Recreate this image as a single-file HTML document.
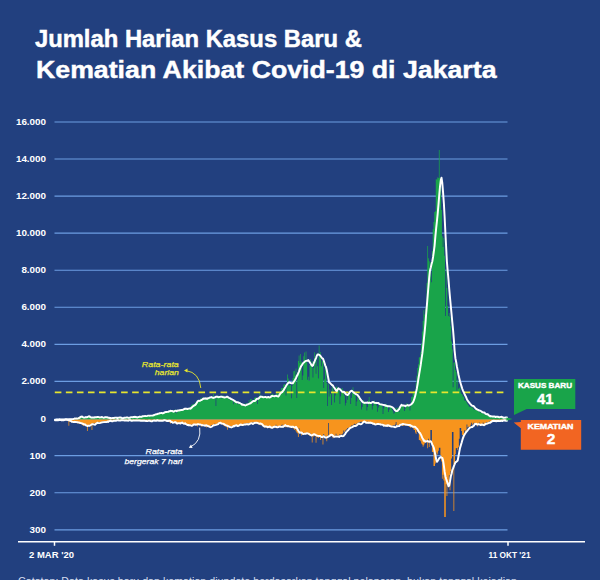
<!DOCTYPE html>
<html><head><meta charset="utf-8">
<style>
html,body{margin:0;padding:0;}
body{width:600px;height:580px;overflow:hidden;background:#22407f;font-family:"Liberation Sans",sans-serif;position:relative;}
svg{position:absolute;left:0;top:0;display:block;}
</style></head><body>
<svg width="600" height="580" viewBox="0 0 600 580" font-family="Liberation Sans, sans-serif">
<rect width="600" height="580" fill="#22407f"/>
<!-- title -->
<text x="34.9" y="46.8" font-size="23.8" font-weight="bold" fill="#fff" stroke="#fff" stroke-width="0.45" textLength="327" lengthAdjust="spacingAndGlyphs">Jumlah Harian Kasus Baru &amp;</text>
<text x="36" y="78.1" font-size="24.8" font-weight="bold" fill="#fff" stroke="#fff" stroke-width="0.45" textLength="460.5" lengthAdjust="spacingAndGlyphs">Kematian Akibat Covid-19 di Jakarta</text>
<!-- grid -->
<g stroke="#6c9de2" stroke-width="1.15"><line x1="54.5" x2="507.5" y1="122.0" y2="122.0"/><line x1="54.5" x2="507.5" y1="159.0" y2="159.0"/><line x1="54.5" x2="507.5" y1="196.1" y2="196.1"/><line x1="54.5" x2="507.5" y1="233.1" y2="233.1"/><line x1="54.5" x2="507.5" y1="270.2" y2="270.2"/><line x1="54.5" x2="507.5" y1="307.2" y2="307.2"/><line x1="54.5" x2="507.5" y1="344.3" y2="344.3"/><line x1="54.5" x2="507.5" y1="381.4" y2="381.4"/><line x1="54.5" x2="507.5" y1="419.4" y2="419.4"/><line x1="54.5" x2="507.5" y1="455.6" y2="455.6"/><line x1="54.5" x2="507.5" y1="492.7" y2="492.7"/><line x1="54.5" x2="507.5" y1="529.9" y2="529.9"/></g>
<g font-size="8.6" font-weight="bold" fill="#fff" text-anchor="end" transform="scale(1.15 1)"><text x="40.09" y="125.1">16.000</text><text x="40.09" y="162.1">14.000</text><text x="40.09" y="199.2">12.000</text><text x="40.09" y="236.2">10.000</text><text x="40.09" y="273.3">8.000</text><text x="40.09" y="310.3">6.000</text><text x="40.09" y="347.4">4.000</text><text x="40.09" y="384.5">2.000</text><text x="40.09" y="422.5">0</text><text x="40.09" y="458.7">100</text><text x="40.09" y="495.8">200</text><text x="40.09" y="533.0">300</text></g>
<!-- areas -->
<path d="M55.00 419.4 L54.62 419.4 L55.38 419.4 L55.39 419.4 L56.16 419.4 L56.16 419.4 L56.93 419.4 L56.93 419.4 L57.70 419.4 L57.70 419.4 L58.47 419.4 L58.47 419.4 L59.24 419.4 L59.24 419.4 L60.01 419.4 L60.01 419.4 L60.78 419.4 L60.78 419.4 L61.55 419.4 L61.55 419.4 L62.32 419.4 L62.32 419.4 L63.09 419.4 L63.09 419.4 L63.86 419.4 L63.86 419.3 L64.63 419.3 L64.63 419.3 L65.40 419.3 L65.40 419.3 L66.17 419.3 L66.17 419.3 L66.94 419.3 L66.94 419.3 L67.71 419.3 L67.71 419.3 L68.48 419.3 L68.48 419.2 L69.25 419.2 L69.25 419.1 L70.02 419.1 L70.02 419.0 L70.79 419.0 L70.79 419.0 L71.56 419.0 L71.56 418.8 L72.33 418.8 L72.33 418.8 L73.10 418.8 L73.10 418.7 L73.87 418.7 L73.87 418.6 L74.64 418.6 L74.64 418.6 L75.41 418.6 L75.41 418.5 L76.18 418.5 L76.18 418.1 L76.95 418.1 L76.95 417.8 L77.72 417.8 L77.72 417.4 L78.49 417.4 L78.49 417.2 L79.26 417.2 L79.26 417.1 L80.03 417.1 L80.03 417.1 L80.80 417.1 L80.80 417.3 L81.57 417.3 L81.57 417.1 L82.34 417.1 L82.34 417.1 L83.11 417.1 L83.11 416.9 L83.88 416.9 L83.88 416.9 L84.65 416.9 L84.65 417.1 L85.42 417.1 L85.42 417.1 L86.19 417.1 L86.19 417.2 L86.96 417.2 L86.96 417.1 L87.73 417.1 L87.73 417.0 L88.50 417.0 L88.50 416.9 L89.27 416.9 L89.27 416.9 L90.04 416.9 L90.04 417.1 L90.81 417.1 L90.81 417.3 L91.58 417.3 L91.58 417.2 L92.35 417.2 L92.35 417.2 L93.12 417.2 L93.12 417.1 L93.89 417.1 L93.89 417.1 L94.66 417.1 L94.66 417.1 L95.43 417.1 L95.43 417.8 L96.20 417.8 L96.20 417.2 L96.97 417.2 L96.97 417.4 L97.74 417.4 L97.74 417.2 L98.51 417.2 L98.51 417.4 L99.28 417.4 L99.28 417.3 L100.05 417.3 L100.05 417.2 L100.82 417.2 L100.82 417.5 L101.59 417.5 L101.59 417.6 L102.36 417.6 L102.36 417.5 L103.13 417.5 L103.13 417.5 L103.90 417.5 L103.90 417.3 L104.67 417.3 L104.67 417.6 L105.44 417.6 L105.44 417.6 L106.21 417.6 L106.21 417.8 L106.98 417.8 L106.98 417.9 L107.75 417.9 L107.75 417.8 L108.52 417.8 L108.52 417.8 L109.29 417.8 L109.29 417.8 L110.06 417.8 L110.06 417.7 L110.83 417.7 L110.83 417.6 L111.60 417.6 L111.60 417.7 L112.37 417.7 L112.37 417.8 L113.14 417.8 L113.14 417.8 L113.91 417.8 L113.91 417.7 L114.68 417.7 L114.68 417.6 L115.45 417.6 L115.45 417.7 L116.22 417.7 L116.22 417.6 L116.99 417.6 L116.99 417.7 L117.76 417.7 L117.76 417.8 L118.53 417.8 L118.53 417.7 L119.30 417.7 L119.30 417.6 L120.07 417.6 L120.07 417.5 L120.84 417.5 L120.84 417.5 L121.61 417.5 L121.61 417.5 L122.38 417.5 L122.38 417.6 L123.15 417.6 L123.15 417.5 L123.92 417.5 L123.92 417.5 L124.69 417.5 L124.69 417.6 L125.46 417.6 L125.46 417.5 L126.23 417.5 L126.23 417.3 L127.00 417.3 L127.00 417.5 L127.77 417.5 L127.77 417.4 L128.54 417.4 L128.54 417.3 L129.31 417.3 L129.31 417.4 L130.08 417.4 L130.08 417.2 L130.85 417.2 L130.85 417.1 L131.62 417.1 L131.62 416.9 L132.39 416.9 L132.39 417.1 L133.16 417.1 L133.16 416.9 L133.93 416.9 L133.93 417.0 L134.70 417.0 L134.70 416.9 L135.47 416.9 L135.47 416.7 L136.24 416.7 L136.24 416.7 L137.01 416.7 L137.01 416.6 L137.78 416.6 L137.78 416.7 L138.55 416.7 L138.55 416.7 L139.32 416.7 L139.32 416.6 L140.09 416.6 L140.09 416.5 L140.86 416.5 L140.86 415.5 L141.63 415.5 L141.63 416.3 L142.40 416.3 L142.40 416.0 L143.17 416.0 L143.17 416.1 L143.94 416.1 L143.94 416.1 L144.71 416.1 L144.71 415.7 L145.48 415.7 L145.48 415.8 L146.25 415.8 L146.25 415.4 L147.02 415.4 L147.02 415.3 L147.79 415.3 L147.79 415.4 L148.56 415.4 L148.56 415.5 L149.33 415.5 L149.33 414.9 L150.10 414.9 L150.10 415.2 L150.87 415.2 L150.87 416.5 L151.64 416.5 L151.64 415.7 L152.41 415.7 L152.41 414.6 L153.18 414.6 L153.18 414.5 L153.95 414.5 L153.95 414.4 L154.72 414.4 L154.72 414.4 L155.49 414.4 L155.49 414.4 L156.26 414.4 L156.26 414.2 L157.03 414.2 L157.03 414.1 L157.80 414.1 L157.80 413.8 L158.57 413.8 L158.57 413.4 L159.34 413.4 L159.34 413.3 L160.11 413.3 L160.11 413.1 L160.88 413.1 L160.88 413.4 L161.65 413.4 L161.65 413.2 L162.42 413.2 L162.42 413.1 L163.19 413.1 L163.19 412.1 L163.96 412.1 L163.96 412.5 L164.73 412.5 L164.73 412.0 L165.50 412.0 L165.50 412.3 L166.27 412.3 L166.27 412.0 L167.04 412.0 L167.04 411.8 L167.81 411.8 L167.81 412.0 L168.58 412.0 L168.58 411.3 L169.35 411.3 L169.35 411.4 L170.12 411.4 L170.12 410.4 L170.89 410.4 L170.89 411.1 L171.66 411.1 L171.66 411.5 L172.43 411.5 L172.43 411.2 L173.20 411.2 L173.20 410.2 L173.97 410.2 L173.97 409.9 L174.74 409.9 L174.74 409.6 L175.51 409.6 L175.51 412.7 L176.28 412.7 L176.28 413.2 L177.05 413.2 L177.05 409.8 L177.82 409.8 L177.82 410.5 L178.59 410.5 L178.59 410.0 L179.36 410.0 L179.36 409.9 L180.13 409.9 L180.13 409.7 L180.90 409.7 L180.90 408.8 L181.67 408.8 L181.67 409.2 L182.44 409.2 L182.44 409.3 L183.21 409.3 L183.21 409.2 L183.98 409.2 L183.98 408.6 L184.75 408.6 L184.75 408.1 L185.52 408.1 L185.52 408.3 L186.29 408.3 L186.29 408.4 L187.06 408.4 L187.06 408.9 L187.83 408.9 L187.83 408.1 L188.60 408.1 L188.60 408.4 L189.37 408.4 L189.37 407.8 L190.14 407.8 L190.14 406.4 L190.91 406.4 L190.91 405.4 L191.68 405.4 L191.68 404.4 L192.45 404.4 L192.45 404.0 L193.22 404.0 L193.22 404.5 L193.99 404.5 L193.99 404.0 L194.76 404.0 L194.76 402.5 L195.53 402.5 L195.53 401.9 L196.30 401.9 L196.30 404.5 L197.07 404.5 L197.07 399.7 L197.84 399.7 L197.84 400.2 L198.61 400.2 L198.61 401.3 L199.38 401.3 L199.38 400.9 L200.15 400.9 L200.15 398.3 L200.92 398.3 L200.92 399.3 L201.69 399.3 L201.69 397.5 L202.46 397.5 L202.46 397.6 L203.23 397.6 L203.23 398.8 L204.00 398.8 L204.00 399.6 L204.77 399.6 L204.77 398.9 L205.54 398.9 L205.54 398.9 L206.31 398.9 L206.31 397.9 L207.08 397.9 L207.08 397.1 L207.85 397.1 L207.85 397.8 L208.62 397.8 L208.62 398.0 L209.39 398.0 L209.39 398.4 L210.16 398.4 L210.16 399.1 L210.93 399.1 L210.93 397.6 L211.70 397.6 L211.70 397.4 L212.47 397.4 L212.47 397.8 L213.24 397.8 L213.24 393.9 L214.01 393.9 L214.01 397.2 L214.78 397.2 L214.78 397.9 L215.55 397.9 L215.55 406.0 L216.32 406.0 L216.32 396.4 L217.09 396.4 L217.09 396.0 L217.86 396.0 L217.86 395.6 L218.63 395.6 L218.63 396.1 L219.40 396.1 L219.40 398.0 L220.17 398.0 L220.17 397.4 L220.94 397.4 L220.94 398.4 L221.71 398.4 L221.71 395.3 L222.48 395.3 L222.48 397.0 L223.25 397.0 L223.25 395.6 L224.02 395.6 L224.02 397.6 L224.79 397.6 L224.79 398.0 L225.56 398.0 L225.56 398.3 L226.33 398.3 L226.33 398.0 L227.10 398.0 L227.10 397.8 L227.87 397.8 L227.87 398.0 L228.64 398.0 L228.64 399.5 L229.41 399.5 L229.41 397.9 L230.18 397.9 L230.18 400.4 L230.95 400.4 L230.95 399.4 L231.72 399.4 L231.72 399.9 L232.49 399.9 L232.49 400.4 L233.26 400.4 L233.26 404.2 L234.03 404.2 L234.03 401.8 L234.80 401.8 L234.80 400.0 L235.57 400.0 L235.57 402.4 L236.34 402.4 L236.34 402.7 L237.11 402.7 L237.11 404.3 L237.88 404.3 L237.88 403.7 L238.65 403.7 L238.65 404.3 L239.42 404.3 L239.42 403.8 L240.19 403.8 L240.19 404.1 L240.96 404.1 L240.96 404.7 L241.73 404.7 L241.73 404.7 L242.50 404.7 L242.50 405.6 L243.27 405.6 L243.27 404.4 L244.04 404.4 L244.04 405.0 L244.81 405.0 L244.81 403.2 L245.58 403.2 L245.58 404.2 L246.35 404.2 L246.35 403.2 L247.12 403.2 L247.12 404.8 L247.89 404.8 L247.89 404.0 L248.66 404.0 L248.66 400.0 L249.43 400.0 L249.43 401.8 L250.20 401.8 L250.20 398.9 L250.97 398.9 L250.97 398.9 L251.74 398.9 L251.74 401.6 L252.51 401.6 L252.51 401.2 L253.28 401.2 L253.28 400.3 L254.05 400.3 L254.05 397.9 L254.82 397.9 L254.82 397.4 L255.59 397.4 L255.59 397.1 L256.36 397.1 L256.36 398.2 L257.13 398.2 L257.13 403.9 L257.90 403.9 L257.90 399.3 L258.67 399.3 L258.67 398.6 L259.44 398.6 L259.44 392.5 L260.21 392.5 L260.21 395.7 L260.98 395.7 L260.98 396.9 L261.75 396.9 L261.75 396.0 L262.52 396.0 L262.52 395.6 L263.29 395.6 L263.29 397.4 L264.06 397.4 L264.06 398.1 L264.83 398.1 L264.83 397.0 L265.60 397.0 L265.60 396.8 L266.37 396.8 L266.37 396.9 L267.14 396.9 L267.14 397.7 L267.91 397.7 L267.91 397.9 L268.68 397.9 L268.68 397.5 L269.45 397.5 L269.45 397.9 L270.22 397.9 L270.22 395.3 L270.99 395.3 L270.99 394.7 L271.76 394.7 L271.76 394.1 L272.53 394.1 L272.53 393.7 L273.30 393.7 L273.30 394.9 L274.07 394.9 L274.07 395.7 L274.84 395.7 L274.84 396.8 L275.61 396.8 L275.61 396.3 L276.38 396.3 L276.38 392.8 L277.15 392.8 L277.15 393.9 L277.92 393.9 L277.92 393.2 L278.69 393.2 L278.69 393.3 L279.46 393.3 L279.46 391.9 L280.23 391.9 L280.23 390.9 L281.00 390.9 L281.00 388.3 L281.77 388.3 L281.77 387.9 L282.54 387.9 L282.54 388.0 L283.31 388.0 L283.31 384.8 L284.08 384.8 L284.08 383.9 L284.85 383.9 L284.85 384.7 L285.62 384.7 L285.62 395.6 L286.39 395.6 L286.39 387.2 L287.16 387.2 L287.16 374.6 L287.93 374.6 L287.93 378.5 L288.70 378.5 L288.70 385.8 L289.47 385.8 L289.47 385.0 L290.24 385.0 L290.24 385.1 L291.01 385.1 L291.01 398.2 L291.78 398.2 L291.78 385.9 L292.55 385.9 L292.55 377.9 L293.32 377.9 L293.32 371.3 L294.09 371.3 L294.09 370.7 L294.86 370.7 L294.86 375.5 L295.63 375.5 L295.63 368.5 L296.40 368.5 L296.40 398.0 L297.17 398.0 L297.17 379.6 L297.94 379.6 L297.94 360.9 L298.71 360.9 L298.71 355.4 L299.48 355.4 L299.48 363.0 L300.25 363.0 L300.25 354.0 L301.02 354.0 L301.02 361.4 L301.79 361.4 L301.79 380.0 L302.56 380.0 L302.56 375.5 L303.33 375.5 L303.33 356.2 L304.10 356.2 L304.10 352.5 L304.87 352.5 L304.87 361.0 L305.64 361.0 L305.64 351.5 L306.41 351.5 L306.41 362.2 L307.18 362.2 L307.18 379.7 L307.95 379.7 L307.95 376.7 L308.72 376.7 L308.72 381.1 L309.49 381.1 L309.49 365.0 L310.26 365.0 L310.26 358.9 L311.03 358.9 L311.03 366.3 L311.80 366.3 L311.80 360.9 L312.57 360.9 L312.57 377.4 L313.34 377.4 L313.34 368.0 L314.11 368.0 L314.11 352.3 L314.88 352.3 L314.88 358.7 L315.65 358.7 L315.65 373.8 L316.42 373.8 L316.42 353.2 L317.19 353.2 L317.19 366.3 L317.96 366.3 L317.96 378.4 L318.73 378.4 L318.73 345.5 L319.50 345.5 L319.50 356.6 L320.27 356.6 L320.27 352.0 L321.04 352.0 L321.04 366.2 L321.81 366.2 L321.81 361.1 L322.58 361.1 L322.58 361.2 L323.35 361.2 L323.35 387.9 L324.12 387.9 L324.12 379.3 L324.89 379.3 L324.89 365.7 L325.66 365.7 L325.66 370.0 L326.43 370.0 L326.43 383.1 L327.20 383.1 L327.20 406.0 L327.97 406.0 L327.97 384.2 L328.74 384.2 L328.74 396.5 L329.51 396.5 L329.51 389.5 L330.28 389.5 L330.28 393.9 L331.05 393.9 L331.05 405.0 L331.82 405.0 L331.82 384.6 L332.59 384.6 L332.59 388.2 L333.36 388.2 L333.36 392.9 L334.13 392.9 L334.13 402.4 L334.90 402.4 L334.90 395.5 L335.67 395.5 L335.67 387.4 L336.44 387.4 L336.44 386.3 L337.21 386.3 L337.21 387.9 L337.98 387.9 L337.98 388.7 L338.75 388.7 L338.75 391.1 L339.52 391.1 L339.52 404.1 L340.29 404.1 L340.29 396.5 L341.06 396.5 L341.06 388.7 L341.83 388.7 L341.83 387.9 L342.60 387.9 L342.60 393.0 L343.37 393.0 L343.37 394.0 L344.14 394.0 L344.14 395.8 L344.91 395.8 L344.91 405.4 L345.68 405.4 L345.68 403.1 L346.45 403.1 L346.45 395.1 L347.22 395.1 L347.22 399.7 L347.99 399.7 L347.99 392.4 L348.76 392.4 L348.76 395.1 L349.53 395.1 L349.53 391.5 L350.30 391.5 L350.30 404.1 L351.07 404.1 L351.07 398.0 L351.84 398.0 L351.84 392.4 L352.61 392.4 L352.61 387.3 L353.38 387.3 L353.38 393.2 L354.15 393.2 L354.15 395.1 L354.92 395.1 L354.92 394.2 L355.69 394.2 L355.69 406.1 L356.46 406.1 L356.46 401.4 L357.23 401.4 L357.23 394.7 L358.00 394.7 L358.00 399.0 L358.77 399.0 L358.77 397.8 L359.54 397.8 L359.54 401.2 L360.31 401.2 L360.31 401.9 L361.08 401.9 L361.08 409.6 L361.85 409.6 L361.85 407.0 L362.62 407.0 L362.62 401.0 L363.39 401.0 L363.39 400.1 L364.16 400.1 L364.16 402.4 L364.93 402.4 L364.93 402.4 L365.70 402.4 L365.70 404.4 L366.47 404.4 L366.47 410.6 L367.24 410.6 L367.24 407.1 L368.01 407.1 L368.01 400.6 L368.78 400.6 L368.78 396.9 L369.55 396.9 L369.55 401.7 L370.32 401.7 L370.32 402.6 L371.09 402.6 L371.09 402.8 L371.86 402.8 L371.86 409.6 L372.63 409.6 L372.63 406.1 L373.40 406.1 L373.40 402.6 L374.17 402.6 L374.17 400.6 L374.94 400.6 L374.94 403.3 L375.71 403.3 L375.71 403.4 L376.48 403.4 L376.48 406.0 L377.25 406.0 L377.25 411.7 L378.02 411.7 L378.02 407.6 L378.79 407.6 L378.79 405.0 L379.56 405.0 L379.56 403.2 L380.33 403.2 L380.33 404.7 L381.10 404.7 L381.10 405.4 L381.87 405.4 L381.87 405.6 L382.64 405.6 L382.64 414.1 L383.41 414.1 L383.41 408.6 L384.18 408.6 L384.18 404.9 L384.95 404.9 L384.95 404.4 L385.72 404.4 L385.72 403.7 L386.49 403.7 L386.49 405.5 L387.26 405.5 L387.26 406.2 L388.03 406.2 L388.03 412.0 L388.80 412.0 L388.80 409.8 L389.57 409.8 L389.57 405.8 L390.34 405.8 L390.34 406.6 L391.11 406.6 L391.11 407.7 L391.88 407.7 L391.88 409.7 L392.65 409.7 L392.65 411.2 L393.42 411.2 L393.42 413.7 L394.19 413.7 L394.19 412.8 L394.96 412.8 L394.96 408.5 L395.73 408.5 L395.73 407.8 L396.50 407.8 L396.50 411.6 L397.27 411.6 L397.27 407.7 L398.04 407.7 L398.04 407.4 L398.81 407.4 L398.81 411.9 L399.58 411.9 L399.58 409.3 L400.35 409.3 L400.35 405.7 L401.12 405.7 L401.12 403.8 L401.89 403.8 L401.89 405.2 L402.66 405.2 L402.66 405.8 L403.43 405.8 L403.43 405.7 L404.20 405.7 L404.20 410.9 L404.97 410.9 L404.97 408.6 L405.74 408.6 L405.74 404.5 L406.51 404.5 L406.51 403.1 L407.28 403.1 L407.28 406.1 L408.05 406.1 L408.05 404.7 L408.82 404.7 L408.82 405.2 L409.59 405.2 L409.59 410.6 L410.36 410.6 L410.36 405.5 L411.13 405.5 L411.13 396.7 L411.90 396.7 L411.90 396.7 L412.67 396.7 L412.67 393.3 L413.44 393.3 L413.44 391.5 L414.21 391.5 L414.21 390.9 L414.98 390.9 L414.98 398.4 L415.75 398.4 L415.75 382.7 L416.52 382.7 L416.52 375.4 L417.29 375.4 L417.29 368.1 L418.06 368.1 L418.06 364.3 L418.83 364.3 L418.83 357.6 L419.60 357.6 L419.60 357.1 L420.37 357.1 L420.37 352.2 L421.14 352.2 L421.14 343.9 L421.91 343.9 L421.91 331.4 L422.68 331.4 L422.68 321.1 L423.45 321.1 L423.45 310.2 L424.22 310.2 L424.22 314.4 L424.99 314.4 L424.99 308.7 L425.76 308.7 L425.76 306.6 L426.53 306.6 L426.53 283.1 L427.30 283.1 L427.30 246.0 L428.07 246.0 L428.07 258.2 L428.84 258.2 L428.84 261.2 L429.61 261.2 L429.61 275.2 L430.38 275.2 L430.38 262.0 L431.15 262.0 L431.15 282.2 L431.92 282.2 L431.92 250.9 L432.69 250.9 L432.69 229.3 L433.46 229.3 L433.46 222.0 L434.23 222.0 L434.23 212.0 L435.00 212.0 L435.00 211.2 L435.77 211.2 L435.77 179.3 L436.54 179.3 L436.54 179.5 L437.31 179.5 L437.31 177.3 L438.08 177.3 L438.08 177.9 L438.85 177.9 L438.85 150.0 L439.62 150.0 L439.62 178.1 L440.39 178.1 L440.39 183.6 L441.16 183.6 L441.16 210.1 L441.93 210.1 L441.93 236.2 L442.70 236.2 L442.70 246.9 L443.47 246.9 L443.47 238.1 L444.24 238.1 L444.24 255.8 L445.01 255.8 L445.01 316.0 L445.78 316.0 L445.78 269.3 L446.55 269.3 L446.55 288.1 L447.32 288.1 L447.32 306.0 L448.09 306.0 L448.09 316.1 L448.86 316.1 L448.86 313.1 L449.63 313.1 L449.63 316.9 L450.40 316.9 L450.40 326.3 L451.17 326.3 L451.17 341.5 L451.94 341.5 L451.94 349.6 L452.71 349.6 L452.71 387.3 L453.48 387.3 L453.48 362.8 L454.25 362.8 L454.25 362.2 L455.02 362.2 L455.02 369.9 L455.79 369.9 L455.79 372.0 L456.56 372.0 L456.56 390.8 L457.33 390.8 L457.33 379.8 L458.10 379.8 L458.10 388.7 L458.87 388.7 L458.87 388.2 L459.64 388.2 L459.64 386.7 L460.41 386.7 L460.41 392.2 L461.18 392.2 L461.18 393.9 L461.95 393.9 L461.95 394.5 L462.72 394.5 L462.72 396.8 L463.49 396.8 L463.49 396.5 L464.26 396.5 L464.26 400.4 L465.03 400.4 L465.03 400.8 L465.80 400.8 L465.80 400.4 L466.57 400.4 L466.57 402.9 L467.34 402.9 L467.34 404.2 L468.11 404.2 L468.11 405.2 L468.88 405.2 L468.88 406.8 L469.65 406.8 L469.65 406.4 L470.42 406.4 L470.42 406.7 L471.19 406.7 L471.19 407.5 L471.96 407.5 L471.96 406.6 L472.73 406.6 L472.73 408.6 L473.50 408.6 L473.50 409.2 L474.27 409.2 L474.27 410.0 L475.04 410.0 L475.04 409.8 L475.81 409.8 L475.81 410.0 L476.58 410.0 L476.58 410.0 L477.35 410.0 L477.35 410.7 L478.12 410.7 L478.12 411.3 L478.89 411.3 L478.89 412.1 L479.66 412.1 L479.66 412.5 L480.43 412.5 L480.43 412.3 L481.20 412.3 L481.20 412.8 L481.97 412.8 L481.97 413.0 L482.74 413.0 L482.74 413.9 L483.51 413.9 L483.51 413.9 L484.28 413.9 L484.28 414.3 L485.05 414.3 L485.05 414.7 L485.82 414.7 L485.82 415.3 L486.59 415.3 L486.59 415.1 L487.36 415.1 L487.36 415.4 L488.13 415.4 L488.13 415.5 L488.90 415.5 L488.90 415.9 L489.67 415.9 L489.67 416.0 L490.44 416.0 L490.44 416.2 L491.21 416.2 L491.21 416.3 L491.98 416.3 L491.98 416.4 L492.75 416.4 L492.75 416.4 L493.52 416.4 L493.52 416.6 L494.29 416.6 L494.29 416.7 L495.06 416.7 L495.06 416.9 L495.83 416.9 L495.83 417.1 L496.60 417.1 L496.60 416.8 L497.37 416.8 L497.37 417.1 L498.14 417.1 L498.14 416.9 L498.91 416.9 L498.91 417.1 L499.68 417.1 L499.68 417.1 L500.45 417.1 L500.45 417.2 L501.22 417.2 L501.22 417.3 L501.99 417.3 L501.99 417.2 L502.76 417.2 L502.76 417.3 L503.53 417.3 L503.53 417.1 L504.30 417.1 L504.30 417.1 L505.07 417.1 L505.07 417.3 L505.84 417.3 L505.84 417.3 L506.61 417.3 L506.61 417.5 L507.38 417.5 L506.99 419.4 Z" fill="#19a44a"/>
<path d="M55.00 419.4 L54.62 420.0 L55.38 420.0 L55.39 420.1 L56.16 420.1 L56.16 420.0 L56.93 420.0 L56.93 420.1 L57.70 420.1 L57.70 420.3 L58.47 420.3 L58.47 420.1 L59.24 420.1 L59.24 420.1 L60.01 420.1 L60.01 420.1 L60.78 420.1 L60.78 420.1 L61.55 420.1 L61.55 420.1 L62.32 420.1 L62.32 420.2 L63.09 420.2 L63.09 420.1 L63.86 420.1 L63.86 420.1 L64.63 420.1 L64.63 420.2 L65.40 420.2 L65.40 419.8 L66.17 419.8 L66.17 420.2 L66.94 420.2 L66.94 420.6 L67.71 420.6 L67.71 420.7 L68.48 420.7 L68.48 425.7 L69.25 425.7 L69.25 421.7 L70.02 421.7 L70.02 421.7 L70.79 421.7 L70.79 422.2 L71.56 422.2 L71.56 422.0 L72.33 422.0 L72.33 421.7 L73.10 421.7 L73.10 422.2 L73.87 422.2 L73.87 422.1 L74.64 422.1 L74.64 422.1 L75.41 422.1 L75.41 422.3 L76.18 422.3 L76.18 422.4 L76.95 422.4 L76.95 423.4 L77.72 423.4 L77.72 423.1 L78.49 423.1 L78.49 423.4 L79.26 423.4 L79.26 423.4 L80.03 423.4 L80.03 423.5 L80.80 423.5 L80.80 424.0 L81.57 424.0 L81.57 424.8 L82.34 424.8 L82.34 425.3 L83.11 425.3 L83.11 426.1 L83.88 426.1 L83.88 425.1 L84.65 425.1 L84.65 425.6 L85.42 425.6 L85.42 425.4 L86.19 425.4 L86.19 425.2 L86.96 425.2 L86.96 431.0 L87.73 431.0 L87.73 425.0 L88.50 425.0 L88.50 424.9 L89.27 424.9 L89.27 424.6 L90.04 424.6 L90.04 424.8 L90.81 424.8 L90.81 424.8 L91.58 424.8 L91.58 430.0 L92.35 430.0 L92.35 423.8 L93.12 423.8 L93.12 423.4 L93.89 423.4 L93.89 423.4 L94.66 423.4 L94.66 423.0 L95.43 423.0 L95.43 423.3 L96.20 423.3 L96.20 422.7 L96.97 422.7 L96.97 422.7 L97.74 422.7 L97.74 422.2 L98.51 422.2 L98.51 422.2 L99.28 422.2 L99.28 422.2 L100.05 422.2 L100.05 422.2 L100.82 422.2 L100.82 421.8 L101.59 421.8 L101.59 421.9 L102.36 421.9 L102.36 421.4 L103.13 421.4 L103.13 421.5 L103.90 421.5 L103.90 421.5 L104.67 421.5 L104.67 421.4 L105.44 421.4 L105.44 421.5 L106.21 421.5 L106.21 421.4 L106.98 421.4 L106.98 421.1 L107.75 421.1 L107.75 421.3 L108.52 421.3 L108.52 421.0 L109.29 421.0 L109.29 421.3 L110.06 421.3 L110.06 421.1 L110.83 421.1 L110.83 421.0 L111.60 421.0 L111.60 420.9 L112.37 420.9 L112.37 420.8 L113.14 420.8 L113.14 420.8 L113.91 420.8 L113.91 420.7 L114.68 420.7 L114.68 420.7 L115.45 420.7 L115.45 420.6 L116.22 420.6 L116.22 420.6 L116.99 420.6 L116.99 420.5 L117.76 420.5 L117.76 420.6 L118.53 420.6 L118.53 420.5 L119.30 420.5 L119.30 420.8 L120.07 420.8 L120.07 420.5 L120.84 420.5 L120.84 420.5 L121.61 420.5 L121.61 420.6 L122.38 420.6 L122.38 420.7 L123.15 420.7 L123.15 420.5 L123.92 420.5 L123.92 420.4 L124.69 420.4 L124.69 420.8 L125.46 420.8 L125.46 420.5 L126.23 420.5 L126.23 420.5 L127.00 420.5 L127.00 420.6 L127.77 420.6 L127.77 420.7 L128.54 420.7 L128.54 420.7 L129.31 420.7 L129.31 420.6 L130.08 420.6 L130.08 420.7 L130.85 420.7 L130.85 420.7 L131.62 420.7 L131.62 420.8 L132.39 420.8 L132.39 420.6 L133.16 420.6 L133.16 420.6 L133.93 420.6 L133.93 420.7 L134.70 420.7 L134.70 420.8 L135.47 420.8 L135.47 420.6 L136.24 420.6 L136.24 420.9 L137.01 420.9 L137.01 420.9 L137.78 420.9 L137.78 420.7 L138.55 420.7 L138.55 420.2 L139.32 420.2 L139.32 420.7 L140.09 420.7 L140.09 420.7 L140.86 420.7 L140.86 420.8 L141.63 420.8 L141.63 420.6 L142.40 420.6 L142.40 420.9 L143.17 420.9 L143.17 420.9 L143.94 420.9 L143.94 420.7 L144.71 420.7 L144.71 420.6 L145.48 420.6 L145.48 420.1 L146.25 420.1 L146.25 420.8 L147.02 420.8 L147.02 420.9 L147.79 420.9 L147.79 420.8 L148.56 420.8 L148.56 420.7 L149.33 420.7 L149.33 420.6 L150.10 420.6 L150.10 420.8 L150.87 420.8 L150.87 420.8 L151.64 420.8 L151.64 420.7 L152.41 420.7 L152.41 420.8 L153.18 420.8 L153.18 420.8 L153.95 420.8 L153.95 420.8 L154.72 420.8 L154.72 420.7 L155.49 420.7 L155.49 420.8 L156.26 420.8 L156.26 420.7 L157.03 420.7 L157.03 420.9 L157.80 420.9 L157.80 420.7 L158.57 420.7 L158.57 420.8 L159.34 420.8 L159.34 420.7 L160.11 420.7 L160.11 420.5 L160.88 420.5 L160.88 420.8 L161.65 420.8 L161.65 420.8 L162.42 420.8 L162.42 420.7 L163.19 420.7 L163.19 420.6 L163.96 420.6 L163.96 420.8 L164.73 420.8 L164.73 421.3 L165.50 421.3 L165.50 420.6 L166.27 420.6 L166.27 420.7 L167.04 420.7 L167.04 420.8 L167.81 420.8 L167.81 421.5 L168.58 421.5 L168.58 422.0 L169.35 422.0 L169.35 422.6 L170.12 422.6 L170.12 423.6 L170.89 423.6 L170.89 423.0 L171.66 423.0 L171.66 423.1 L172.43 423.1 L172.43 423.1 L173.20 423.1 L173.20 422.9 L173.97 422.9 L173.97 422.8 L174.74 422.8 L174.74 423.2 L175.51 423.2 L175.51 423.2 L176.28 423.2 L176.28 422.2 L177.05 422.2 L177.05 423.0 L177.82 423.0 L177.82 423.0 L178.59 423.0 L178.59 423.0 L179.36 423.0 L179.36 423.6 L180.13 423.6 L180.13 423.2 L180.90 423.2 L180.90 421.8 L181.67 421.8 L181.67 423.4 L182.44 423.4 L182.44 423.7 L183.21 423.7 L183.21 424.3 L183.98 424.3 L183.98 424.1 L184.75 424.1 L184.75 424.6 L185.52 424.6 L185.52 424.5 L186.29 424.5 L186.29 424.9 L187.06 424.9 L187.06 425.7 L187.83 425.7 L187.83 425.6 L188.60 425.6 L188.60 424.8 L189.37 424.8 L189.37 424.7 L190.14 424.7 L190.14 426.1 L190.91 426.1 L190.91 424.7 L191.68 424.7 L191.68 424.5 L192.45 424.5 L192.45 425.0 L193.22 425.0 L193.22 424.4 L193.99 424.4 L193.99 424.5 L194.76 424.5 L194.76 424.8 L195.53 424.8 L195.53 424.8 L196.30 424.8 L196.30 424.3 L197.07 424.3 L197.07 426.5 L197.84 426.5 L197.84 424.5 L198.61 424.5 L198.61 424.7 L199.38 424.7 L199.38 425.0 L200.15 425.0 L200.15 425.0 L200.92 425.0 L200.92 426.8 L201.69 426.8 L201.69 425.7 L202.46 425.7 L202.46 425.4 L203.23 425.4 L203.23 424.2 L204.00 424.2 L204.00 425.9 L204.77 425.9 L204.77 426.1 L205.54 426.1 L205.54 426.5 L206.31 426.5 L206.31 427.4 L207.08 427.4 L207.08 427.0 L207.85 427.0 L207.85 427.2 L208.62 427.2 L208.62 427.0 L209.39 427.0 L209.39 426.0 L210.16 426.0 L210.16 426.7 L210.93 426.7 L210.93 425.1 L211.70 425.1 L211.70 425.3 L212.47 425.3 L212.47 425.2 L213.24 425.2 L213.24 425.1 L214.01 425.1 L214.01 423.8 L214.78 423.8 L214.78 424.3 L215.55 424.3 L215.55 424.0 L216.32 424.0 L216.32 424.1 L217.09 424.1 L217.09 423.2 L217.86 423.2 L217.86 423.1 L218.63 423.1 L218.63 423.0 L219.40 423.0 L219.40 423.5 L220.17 423.5 L220.17 423.7 L220.94 423.7 L220.94 424.1 L221.71 424.1 L221.71 424.4 L222.48 424.4 L222.48 424.5 L223.25 424.5 L223.25 425.4 L224.02 425.4 L224.02 425.9 L224.79 425.9 L224.79 426.5 L225.56 426.5 L225.56 426.4 L226.33 426.4 L226.33 427.3 L227.10 427.3 L227.10 429.7 L227.87 429.7 L227.87 426.0 L228.64 426.0 L228.64 426.5 L229.41 426.5 L229.41 425.9 L230.18 425.9 L230.18 426.0 L230.95 426.0 L230.95 426.4 L231.72 426.4 L231.72 426.2 L232.49 426.2 L232.49 426.8 L233.26 426.8 L233.26 426.9 L234.03 426.9 L234.03 426.1 L234.80 426.1 L234.80 425.7 L235.57 425.7 L235.57 425.6 L236.34 425.6 L236.34 425.5 L237.11 425.5 L237.11 425.6 L237.88 425.6 L237.88 425.0 L238.65 425.0 L238.65 425.4 L239.42 425.4 L239.42 424.9 L240.19 424.9 L240.19 425.3 L240.96 425.3 L240.96 425.3 L241.73 425.3 L241.73 425.2 L242.50 425.2 L242.50 424.4 L243.27 424.4 L243.27 423.8 L244.04 423.8 L244.04 423.6 L244.81 423.6 L244.81 423.9 L245.58 423.9 L245.58 423.4 L246.35 423.4 L246.35 423.2 L247.12 423.2 L247.12 423.4 L247.89 423.4 L247.89 423.1 L248.66 423.1 L248.66 423.4 L249.43 423.4 L249.43 423.6 L250.20 423.6 L250.20 423.6 L250.97 423.6 L250.97 422.9 L251.74 422.9 L251.74 422.3 L252.51 422.3 L252.51 422.5 L253.28 422.5 L253.28 422.2 L254.05 422.2 L254.05 422.3 L254.82 422.3 L254.82 422.4 L255.59 422.4 L255.59 423.6 L256.36 423.6 L256.36 423.0 L257.13 423.0 L257.13 423.4 L257.90 423.4 L257.90 424.1 L258.67 424.1 L258.67 424.6 L259.44 424.6 L259.44 424.9 L260.21 424.9 L260.21 425.2 L260.98 425.2 L260.98 425.1 L261.75 425.1 L261.75 426.1 L262.52 426.1 L262.52 426.2 L263.29 426.2 L263.29 425.6 L264.06 425.6 L264.06 427.5 L264.83 427.5 L264.83 426.8 L265.60 426.8 L265.60 427.8 L266.37 427.8 L266.37 426.7 L267.14 426.7 L267.14 427.1 L267.91 427.1 L267.91 427.6 L268.68 427.6 L268.68 427.4 L269.45 427.4 L269.45 428.3 L270.22 428.3 L270.22 426.6 L270.99 426.6 L270.99 427.5 L271.76 427.5 L271.76 426.8 L272.53 426.8 L272.53 427.5 L273.30 427.5 L273.30 427.2 L274.07 427.2 L274.07 426.7 L274.84 426.7 L274.84 428.0 L275.61 428.0 L275.61 424.7 L276.38 424.7 L276.38 427.2 L277.15 427.2 L277.15 425.9 L277.92 425.9 L277.92 426.4 L278.69 426.4 L278.69 426.3 L279.46 426.3 L279.46 426.3 L280.23 426.3 L280.23 425.9 L281.00 425.9 L281.00 425.6 L281.77 425.6 L281.77 424.6 L282.54 424.6 L282.54 425.9 L283.31 425.9 L283.31 425.8 L284.08 425.8 L284.08 426.2 L284.85 426.2 L284.85 426.8 L285.62 426.8 L285.62 427.6 L286.39 427.6 L286.39 426.9 L287.16 426.9 L287.16 427.2 L287.93 427.2 L287.93 427.1 L288.70 427.1 L288.70 427.2 L289.47 427.2 L289.47 427.2 L290.24 427.2 L290.24 426.9 L291.01 426.9 L291.01 426.9 L291.78 426.9 L291.78 427.4 L292.55 427.4 L292.55 428.3 L293.32 428.3 L293.32 428.4 L294.09 428.4 L294.09 430.1 L294.86 430.1 L294.86 429.1 L295.63 429.1 L295.63 431.3 L296.40 431.3 L296.40 432.5 L297.17 432.5 L297.17 433.2 L297.94 433.2 L297.94 436.9 L298.71 436.9 L298.71 428.3 L299.48 428.3 L299.48 431.1 L300.25 431.1 L300.25 432.8 L301.02 432.8 L301.02 435.6 L301.79 435.6 L301.79 433.7 L302.56 433.7 L302.56 432.4 L303.33 432.4 L303.33 434.0 L304.10 434.0 L304.10 433.5 L304.87 433.5 L304.87 434.1 L305.64 434.1 L305.64 433.6 L306.41 433.6 L306.41 432.8 L307.18 432.8 L307.18 433.7 L307.95 433.7 L307.95 435.1 L308.72 435.1 L308.72 434.8 L309.49 434.8 L309.49 435.9 L310.26 435.9 L310.26 433.6 L311.03 433.6 L311.03 436.0 L311.80 436.0 L311.80 442.6 L312.57 442.6 L312.57 435.4 L313.34 435.4 L313.34 436.8 L314.11 436.8 L314.11 435.4 L314.88 435.4 L314.88 436.0 L315.65 436.0 L315.65 442.8 L316.42 442.8 L316.42 436.8 L317.19 436.8 L317.19 437.2 L317.96 437.2 L317.96 438.0 L318.73 438.0 L318.73 437.2 L319.50 437.2 L319.50 436.2 L320.27 436.2 L320.27 439.9 L321.04 439.9 L321.04 437.1 L321.81 437.1 L321.81 437.7 L322.58 437.7 L322.58 444.4 L323.35 444.4 L323.35 434.1 L324.12 434.1 L324.12 435.5 L324.89 435.5 L324.89 436.1 L325.66 436.1 L325.66 436.2 L326.43 436.2 L326.43 441.3 L327.20 441.3 L327.20 435.8 L327.97 435.8 L327.97 423.0 L328.74 423.0 L328.74 436.4 L329.51 436.4 L329.51 435.7 L330.28 435.7 L330.28 436.2 L331.05 436.2 L331.05 436.3 L331.82 436.3 L331.82 435.6 L332.59 435.6 L332.59 438.3 L333.36 438.3 L333.36 435.0 L334.13 435.0 L334.13 436.3 L334.90 436.3 L334.90 436.5 L335.67 436.5 L335.67 433.7 L336.44 433.7 L336.44 436.9 L337.21 436.9 L337.21 435.5 L337.98 435.5 L337.98 436.1 L338.75 436.1 L338.75 435.4 L339.52 435.4 L339.52 433.9 L340.29 433.9 L340.29 435.6 L341.06 435.6 L341.06 434.6 L341.83 434.6 L341.83 434.6 L342.60 434.6 L342.60 433.2 L343.37 433.2 L343.37 430.4 L344.14 430.4 L344.14 431.9 L344.91 431.9 L344.91 430.7 L345.68 430.7 L345.68 429.8 L346.45 429.8 L346.45 429.2 L347.22 429.2 L347.22 427.9 L347.99 427.9 L347.99 428.2 L348.76 428.2 L348.76 427.3 L349.53 427.3 L349.53 428.5 L350.30 428.5 L350.30 426.4 L351.07 426.4 L351.07 425.6 L351.84 425.6 L351.84 425.5 L352.61 425.5 L352.61 425.8 L353.38 425.8 L353.38 424.6 L354.15 424.6 L354.15 423.7 L354.92 423.7 L354.92 424.7 L355.69 424.7 L355.69 424.0 L356.46 424.0 L356.46 423.4 L357.23 423.4 L357.23 423.4 L358.00 423.4 L358.00 422.7 L358.77 422.7 L358.77 422.3 L359.54 422.3 L359.54 422.4 L360.31 422.4 L360.31 421.8 L361.08 421.8 L361.08 421.8 L361.85 421.8 L361.85 421.9 L362.62 421.9 L362.62 422.2 L363.39 422.2 L363.39 422.3 L364.16 422.3 L364.16 422.0 L364.93 422.0 L364.93 422.7 L365.70 422.7 L365.70 422.6 L366.47 422.6 L366.47 423.1 L367.24 423.1 L367.24 421.6 L368.01 421.6 L368.01 423.5 L368.78 423.5 L368.78 423.2 L369.55 423.2 L369.55 422.8 L370.32 422.8 L370.32 423.5 L371.09 423.5 L371.09 423.8 L371.86 423.8 L371.86 423.7 L372.63 423.7 L372.63 423.8 L373.40 423.8 L373.40 424.6 L374.17 424.6 L374.17 424.2 L374.94 424.2 L374.94 424.7 L375.71 424.7 L375.71 424.5 L376.48 424.5 L376.48 424.1 L377.25 424.1 L377.25 424.4 L378.02 424.4 L378.02 424.7 L378.79 424.7 L378.79 425.1 L379.56 425.1 L379.56 424.8 L380.33 424.8 L380.33 424.7 L381.10 424.7 L381.10 424.9 L381.87 424.9 L381.87 423.7 L382.64 423.7 L382.64 425.2 L383.41 425.2 L383.41 425.4 L384.18 425.4 L384.18 426.6 L384.95 426.6 L384.95 426.0 L385.72 426.0 L385.72 425.6 L386.49 425.6 L386.49 426.1 L387.26 426.1 L387.26 426.9 L388.03 426.9 L388.03 426.6 L388.80 426.6 L388.80 426.3 L389.57 426.3 L389.57 425.8 L390.34 425.8 L390.34 425.6 L391.11 425.6 L391.11 426.1 L391.88 426.1 L391.88 426.0 L392.65 426.0 L392.65 425.2 L393.42 425.2 L393.42 425.2 L394.19 425.2 L394.19 425.6 L394.96 425.6 L394.96 424.5 L395.73 424.5 L395.73 422.1 L396.50 422.1 L396.50 425.1 L397.27 425.1 L397.27 425.2 L398.04 425.2 L398.04 424.9 L398.81 424.9 L398.81 425.0 L399.58 425.0 L399.58 425.1 L400.35 425.1 L400.35 425.0 L401.12 425.0 L401.12 424.7 L401.89 424.7 L401.89 425.8 L402.66 425.8 L402.66 425.8 L403.43 425.8 L403.43 425.7 L404.20 425.7 L404.20 425.1 L404.97 425.1 L404.97 425.8 L405.74 425.8 L405.74 424.8 L406.51 424.8 L406.51 425.8 L407.28 425.8 L407.28 424.9 L408.05 424.9 L408.05 426.0 L408.82 426.0 L408.82 426.9 L409.59 426.9 L409.59 426.5 L410.36 426.5 L410.36 428.1 L411.13 428.1 L411.13 426.8 L411.90 426.8 L411.90 427.2 L412.67 427.2 L412.67 427.8 L413.44 427.8 L413.44 429.6 L414.21 429.6 L414.21 429.9 L414.98 429.9 L414.98 432.5 L415.75 432.5 L415.75 434.1 L416.52 434.1 L416.52 428.0 L417.29 428.0 L417.29 432.1 L418.06 432.1 L418.06 429.7 L418.83 429.7 L418.83 440.1 L419.60 440.1 L419.60 440.3 L420.37 440.3 L420.37 441.2 L421.14 441.2 L421.14 443.4 L421.91 443.4 L421.91 444.5 L422.68 444.5 L422.68 446.7 L423.45 446.7 L423.45 445.3 L424.22 445.3 L424.22 443.4 L424.99 443.4 L424.99 442.8 L425.76 442.8 L425.76 440.1 L426.53 440.1 L426.53 442.3 L427.30 442.3 L427.30 448.3 L428.07 448.3 L428.07 438.8 L428.84 438.8 L428.84 447.0 L429.61 447.0 L429.61 440.5 L430.38 440.5 L430.38 430.0 L431.15 430.0 L431.15 430.0 L431.92 430.0 L431.92 452.0 L432.69 452.0 L432.69 452.0 L433.46 452.0 L433.46 466.0 L434.23 466.0 L434.23 466.0 L435.00 466.0 L435.00 463.4 L435.77 463.4 L435.77 456.1 L436.54 456.1 L436.54 452.6 L437.31 452.6 L437.31 454.6 L438.08 454.6 L438.08 450.7 L438.85 450.7 L438.85 447.7 L439.62 447.7 L439.62 447.7 L440.39 447.7 L440.39 455.1 L441.16 455.1 L441.16 461.6 L441.93 461.6 L441.93 478.8 L442.70 478.8 L442.70 474.7 L443.47 474.7 L443.47 480.4 L444.24 480.4 L444.24 517.0 L445.01 517.0 L445.01 517.0 L445.78 517.0 L445.78 484.3 L446.55 484.3 L446.55 495.9 L447.32 495.9 L447.32 483.0 L448.09 483.0 L448.09 483.0 L448.86 483.0 L448.86 475.3 L449.63 475.3 L449.63 490.3 L450.40 490.3 L450.40 471.2 L451.17 471.2 L451.17 458.5 L451.94 458.5 L451.94 432.0 L452.71 432.0 L452.71 432.0 L453.48 432.0 L453.48 511.0 L454.25 511.0 L454.25 462.6 L455.02 462.6 L455.02 454.2 L455.79 454.2 L455.79 448.2 L456.56 448.2 L456.56 447.9 L457.33 447.9 L457.33 450.0 L458.10 450.0 L458.10 447.3 L458.87 447.3 L458.87 438.8 L459.64 438.8 L459.64 428.0 L460.41 428.0 L460.41 428.0 L461.18 428.0 L461.18 431.0 L461.95 431.0 L461.95 434.9 L462.72 434.9 L462.72 435.4 L463.49 435.4 L463.49 437.9 L464.26 437.9 L464.26 430.3 L465.03 430.3 L465.03 431.7 L465.80 431.7 L465.80 430.3 L466.57 430.3 L466.57 424.4 L467.34 424.4 L467.34 427.6 L468.11 427.6 L468.11 426.7 L468.88 426.7 L468.88 426.7 L469.65 426.7 L469.65 427.4 L470.42 427.4 L470.42 424.7 L471.19 424.7 L471.19 422.7 L471.96 422.7 L471.96 424.8 L472.73 424.8 L472.73 423.7 L473.50 423.7 L473.50 422.8 L474.27 422.8 L474.27 423.4 L475.04 423.4 L475.04 423.7 L475.81 423.7 L475.81 424.0 L476.58 424.0 L476.58 424.7 L477.35 424.7 L477.35 426.4 L478.12 426.4 L478.12 424.4 L478.89 424.4 L478.89 422.5 L479.66 422.5 L479.66 424.0 L480.43 424.0 L480.43 425.1 L481.20 425.1 L481.20 425.3 L481.97 425.3 L481.97 424.2 L482.74 424.2 L482.74 422.6 L483.51 422.6 L483.51 424.9 L484.28 424.9 L484.28 426.0 L485.05 426.0 L485.05 423.7 L485.82 423.7 L485.82 422.2 L486.59 422.2 L486.59 422.5 L487.36 422.5 L487.36 424.2 L488.13 424.2 L488.13 422.0 L488.90 422.0 L488.90 421.4 L489.67 421.4 L489.67 421.6 L490.44 421.6 L490.44 421.7 L491.21 421.7 L491.21 421.7 L491.98 421.7 L491.98 420.5 L492.75 420.5 L492.75 421.1 L493.52 421.1 L493.52 421.1 L494.29 421.1 L494.29 420.5 L495.06 420.5 L495.06 420.8 L495.83 420.8 L495.83 421.2 L496.60 421.2 L496.60 421.1 L497.37 421.1 L497.37 420.5 L498.14 420.5 L498.14 421.3 L498.91 421.3 L498.91 420.9 L499.68 420.9 L499.68 421.0 L500.45 421.0 L500.45 420.8 L501.22 420.8 L501.22 420.9 L501.99 420.9 L501.99 420.9 L502.76 420.9 L502.76 420.8 L503.53 420.8 L503.53 420.6 L504.30 420.6 L504.30 421.1 L505.07 421.1 L505.07 420.8 L505.84 420.8 L505.84 420.6 L506.61 420.6 L506.61 420.4 L507.38 420.4 L506.99 419.4 Z" fill="#f7941d"/>
<!-- dashed mean -->
<line x1="54.8" x2="505" y1="392.4" y2="392.4" stroke="#e6e52e" stroke-width="1.6" stroke-dasharray="6.6 4.45"/>
<!-- avg lines -->
<path d="M55.0 420.2 L55.8 420.2 L56.5 420.2 L57.3 420.1 L58.1 420.2 L58.9 420.0 L59.6 420.0 L60.4 420.0 L61.2 420.1 L61.9 420.4 L62.7 420.3 L63.5 420.3 L64.2 420.0 L65.0 419.8 L65.8 419.6 L66.6 419.8 L67.3 419.9 L68.1 420.2 L68.9 420.3 L69.6 420.4 L70.4 420.8 L71.2 421.1 L71.9 421.8 L72.7 421.9 L73.5 422.1 L74.3 421.8 L75.0 422.1 L75.8 421.9 L76.6 422.1 L77.3 422.2 L78.1 422.4 L78.9 422.5 L79.6 422.7 L80.4 423.0 L81.2 423.1 L82.0 423.4 L82.7 423.7 L83.5 424.2 L84.3 424.5 L85.0 424.3 L85.8 425.3 L86.6 425.5 L87.3 426.0 L88.1 425.8 L88.9 425.7 L89.7 425.8 L90.4 425.1 L91.2 424.8 L92.0 424.2 L92.7 424.2 L93.5 424.4 L94.3 424.6 L95.0 424.7 L95.8 423.9 L96.6 423.4 L97.4 422.8 L98.1 423.0 L98.9 423.1 L99.7 423.1 L100.4 422.9 L101.2 422.6 L102.0 422.4 L102.7 422.3 L103.5 422.1 L104.3 422.1 L105.1 422.0 L105.8 422.1 L106.6 422.1 L107.4 421.6 L108.1 421.9 L108.9 421.3 L109.7 421.1 L110.4 420.5 L111.2 421.1 L112.0 421.3 L112.8 421.3 L113.5 420.8 L114.3 420.8 L115.1 420.8 L115.8 420.8 L116.6 420.5 L117.4 420.3 L118.1 420.3 L118.9 420.5 L119.7 420.6 L120.5 420.5 L121.2 420.3 L122.0 420.3 L122.8 420.2 L123.5 420.4 L124.3 420.5 L125.1 420.5 L125.8 420.4 L126.6 420.5 L127.4 420.6 L128.2 420.7 L128.9 420.2 L129.7 420.1 L130.5 420.3 L131.2 420.8 L132.0 420.8 L132.8 420.6 L133.5 420.4 L134.3 420.6 L135.1 420.5 L135.9 420.6 L136.6 420.4 L137.4 420.6 L138.2 420.4 L138.9 420.6 L139.7 420.5 L140.5 420.7 L141.2 420.7 L142.0 420.9 L142.8 420.7 L143.6 420.8 L144.3 420.7 L145.1 420.9 L145.9 421.0 L146.6 420.9 L147.4 421.1 L148.2 420.9 L148.9 420.7 L149.7 420.7 L150.5 421.1 L151.3 421.3 L152.0 421.3 L152.8 420.9 L153.6 420.6 L154.3 420.5 L155.1 420.8 L155.9 420.7 L156.6 420.7 L157.4 420.2 L158.2 420.5 L159.0 420.7 L159.7 420.8 L160.5 420.7 L161.3 420.8 L162.0 420.9 L162.8 420.8 L163.6 420.4 L164.3 420.2 L165.1 420.4 L165.9 420.5 L166.7 421.0 L167.4 421.0 L168.2 421.0 L169.0 420.8 L169.7 420.7 L170.5 421.2 L171.3 422.0 L172.0 422.0 L172.8 422.7 L173.6 422.6 L174.4 422.4 L175.1 422.0 L175.9 422.4 L176.7 423.5 L177.4 423.6 L178.2 423.1 L179.0 423.1 L179.7 423.2 L180.5 423.6 L181.3 422.8 L182.1 422.6 L182.8 423.2 L183.6 423.5 L184.4 423.7 L185.1 423.3 L185.9 424.1 L186.7 424.4 L187.4 425.0 L188.2 424.9 L189.0 425.4 L189.8 425.3 L190.5 425.4 L191.3 425.7 L192.1 425.8 L192.8 425.3 L193.6 424.5 L194.4 424.4 L195.1 424.5 L195.9 424.7 L196.7 424.6 L197.5 424.2 L198.2 424.3 L199.0 424.3 L199.8 424.6 L200.5 424.5 L201.3 424.9 L202.1 425.2 L202.8 425.1 L203.6 425.4 L204.4 425.5 L205.2 425.7 L205.9 425.2 L206.7 425.5 L207.5 425.6 L208.2 426.1 L209.0 426.4 L209.8 426.9 L210.5 427.2 L211.3 426.9 L212.1 426.5 L212.9 425.8 L213.6 425.3 L214.4 425.3 L215.2 425.1 L215.9 424.9 L216.7 424.6 L217.5 424.3 L218.2 424.0 L219.0 423.1 L219.8 422.9 L220.6 422.8 L221.3 423.5 L222.1 423.6 L222.9 423.6 L223.6 423.9 L224.4 424.4 L225.2 424.9 L225.9 425.2 L226.7 425.4 L227.5 425.8 L228.3 426.3 L229.0 426.5 L229.8 427.0 L230.6 427.1 L231.3 427.4 L232.1 427.1 L232.9 426.7 L233.6 426.0 L234.4 426.2 L235.2 425.5 L236.0 425.6 L236.7 425.2 L237.5 425.9 L238.3 425.9 L239.0 425.6 L239.8 424.9 L240.6 424.5 L241.3 424.7 L242.1 425.0 L242.9 425.0 L243.7 424.7 L244.4 424.4 L245.2 424.6 L246.0 424.3 L246.7 424.2 L247.5 424.3 L248.3 424.5 L249.0 424.3 L249.8 423.9 L250.6 423.4 L251.4 423.3 L252.1 423.4 L252.9 424.0 L253.7 423.3 L254.4 423.0 L255.2 422.8 L256.0 422.9 L256.7 422.7 L257.5 422.9 L258.3 423.3 L259.1 423.7 L259.8 423.6 L260.6 423.5 L261.4 423.8 L262.1 424.1 L262.9 425.2 L263.7 426.0 L264.4 426.6 L265.2 426.5 L266.0 426.4 L266.8 426.6 L267.5 427.2 L268.3 427.0 L269.1 426.9 L269.8 426.4 L270.6 427.3 L271.4 427.5 L272.1 427.8 L272.9 427.3 L273.7 427.0 L274.5 426.8 L275.2 426.8 L276.0 426.7 L276.8 427.2 L277.5 427.3 L278.3 427.1 L279.1 426.5 L279.8 426.6 L280.6 426.8 L281.4 426.9 L282.2 426.7 L282.9 426.9 L283.7 426.3 L284.5 425.9 L285.2 425.1 L286.0 425.7 L286.8 425.9 L287.5 426.2 L288.3 426.0 L289.1 426.4 L289.9 426.6 L290.6 426.7 L291.4 427.0 L292.2 426.8 L292.9 426.7 L293.7 427.1 L294.5 427.4 L295.2 427.7 L296.0 426.9 L296.8 428.0 L297.6 429.4 L298.3 430.8 L299.1 432.0 L299.9 432.8 L300.6 432.5 L301.4 432.5 L302.2 433.1 L302.9 433.9 L303.7 433.9 L304.5 433.8 L305.3 433.6 L306.0 433.7 L306.8 433.3 L307.6 433.4 L308.3 433.6 L309.1 434.0 L309.9 434.4 L310.6 435.0 L311.4 435.5 L312.2 435.3 L313.0 434.7 L313.7 434.3 L314.5 434.3 L315.3 434.7 L316.0 435.2 L316.8 435.6 L317.6 435.8 L318.3 435.9 L319.1 436.0 L319.9 435.9 L320.7 436.5 L321.4 437.0 L322.2 437.1 L323.0 436.6 L323.7 436.3 L324.5 436.7 L325.3 437.5 L326.0 437.6 L326.8 437.5 L327.6 437.0 L328.4 436.7 L329.1 436.2 L329.9 435.7 L330.7 435.0 L331.4 434.7 L332.2 434.9 L333.0 435.8 L333.7 436.5 L334.5 436.8 L335.3 436.6 L336.1 436.6 L336.8 436.6 L337.6 436.6 L338.4 436.6 L339.1 436.9 L339.9 436.2 L340.7 436.1 L341.4 435.8 L342.2 436.1 L343.0 436.2 L343.8 435.8 L344.5 434.8 L345.3 433.8 L346.1 432.3 L346.8 431.6 L347.6 430.7 L348.4 430.0 L349.1 429.0 L349.9 428.3 L350.7 427.6 L351.5 427.5 L352.2 427.1 L353.0 426.7 L353.8 426.2 L354.5 425.9 L355.3 426.0 L356.1 425.9 L356.8 425.2 L357.6 424.5 L358.4 423.8 L359.2 423.7 L359.9 424.1 L360.7 424.2 L361.5 424.1 L362.2 423.4 L363.0 422.4 L363.8 421.7 L364.5 421.4 L365.3 422.1 L366.1 422.7 L366.9 422.8 L367.6 422.7 L368.4 422.6 L369.2 422.8 L369.9 422.8 L370.7 422.6 L371.5 423.1 L372.2 423.1 L373.0 423.8 L373.8 423.7 L374.6 424.2 L375.3 424.5 L376.1 424.4 L376.9 424.1 L377.6 424.0 L378.4 424.0 L379.2 424.1 L379.9 424.1 L380.7 424.6 L381.5 424.6 L382.3 424.6 L383.0 424.9 L383.8 425.7 L384.6 425.4 L385.3 425.7 L386.1 425.6 L386.9 426.0 L387.6 425.3 L388.4 425.3 L389.2 425.6 L390.0 426.1 L390.7 426.3 L391.5 426.5 L392.3 426.6 L393.0 426.6 L393.8 426.7 L394.6 427.0 L395.3 427.2 L396.1 426.8 L396.9 426.1 L397.7 426.2 L398.4 426.1 L399.2 426.1 L400.0 425.0 L400.7 424.9 L401.5 424.4 L402.3 424.4 L403.0 423.9 L403.8 424.1 L404.6 424.4 L405.4 424.5 L406.1 424.6 L406.9 424.7 L407.7 424.9 L408.4 424.9 L409.2 424.9 L410.0 425.0 L410.7 425.7 L411.5 425.8 L412.3 426.5 L413.1 426.7 L413.8 426.8 L414.6 426.8 L415.4 427.0 L416.1 427.9 L416.9 428.7 L417.7 429.7 L418.4 431.1 L419.2 432.4 L420.0 433.1 L420.8 434.4 L421.5 435.9 L422.3 438.0 L423.1 439.1 L423.8 440.8 L424.6 440.5 L425.4 441.7 L426.1 441.4 L426.9 441.3 L427.7 441.0 L428.5 441.5 L429.2 441.8 L430.0 441.3 L430.8 441.3 L431.5 442.5 L432.3 444.7 L433.1 446.0 L433.8 447.8 L434.6 451.5 L435.4 455.2 L436.2 459.2 L436.9 461.8 L437.7 460.8 L438.5 459.5 L439.2 458.3 L440.0 457.5 L440.8 457.1 L441.5 457.6 L442.3 457.9 L443.1 460.6 L443.9 466.0 L444.6 471.4 L445.4 476.2 L446.2 479.0 L446.9 481.1 L447.7 483.6 L448.5 486.2 L449.2 485.5 L450.0 481.4 L450.8 476.5 L451.6 473.7 L452.3 470.2 L453.1 468.4 L453.9 466.2 L454.6 464.5 L455.4 462.4 L456.2 461.9 L456.9 461.3 L457.7 460.5 L458.5 456.2 L459.3 451.9 L460.0 448.1 L460.8 445.4 L461.6 442.8 L462.3 440.3 L463.1 437.6 L463.9 435.7 L464.6 434.5 L465.4 433.3 L466.2 432.0 L467.0 431.1 L467.7 430.3 L468.5 429.2 L469.3 428.3 L470.0 427.6 L470.8 427.4 L471.6 427.0 L472.3 427.0 L473.1 426.2 L473.9 425.7 L474.7 424.2 L475.4 423.9 L476.2 423.8 L477.0 424.6 L477.7 424.5 L478.5 424.2 L479.3 424.4 L480.0 424.7 L480.8 425.1 L481.6 424.4 L482.4 424.8 L483.1 424.8 L483.9 425.2 L484.7 424.6 L485.4 424.1 L486.2 423.7 L487.0 423.7 L487.7 423.4 L488.5 423.1 L489.3 422.7 L490.1 422.8 L490.8 422.2 L491.6 421.7 L492.4 420.9 L493.1 421.0 L493.9 420.8 L494.7 421.0 L495.4 421.0 L496.2 421.2 L497.0 421.0 L497.8 421.0 L498.5 421.0 L499.3 421.1 L500.1 421.0 L500.8 421.0 L501.6 420.7 L502.4 421.0 L503.1 420.4 L503.9 420.5 L504.7 420.2 L505.5 420.7 L506.2 420.6 L507.0 420.7" fill="none" stroke="#fff" stroke-width="1.95" stroke-linejoin="round" stroke-linecap="round"/>
<path d="M55.0 419.6 L55.8 419.6 L56.5 419.5 L57.3 419.4 L58.1 419.4 L58.9 419.4 L59.6 419.3 L60.4 419.4 L61.2 419.4 L61.9 419.5 L62.7 419.4 L63.5 419.4 L64.2 419.4 L65.0 419.4 L65.8 419.2 L66.6 419.3 L67.3 419.3 L68.1 419.4 L68.9 419.2 L69.6 419.3 L70.4 419.3 L71.2 419.3 L71.9 419.2 L72.7 419.1 L73.5 419.0 L74.3 418.7 L75.0 418.4 L75.8 418.6 L76.6 418.5 L77.3 418.6 L78.1 418.4 L78.9 418.0 L79.6 417.8 L80.4 417.0 L81.2 416.8 L82.0 416.5 L82.7 417.1 L83.5 417.5 L84.3 417.6 L85.0 417.5 L85.8 417.1 L86.6 417.3 L87.3 417.0 L88.1 416.7 L88.9 416.3 L89.7 416.5 L90.4 417.2 L91.2 417.5 L92.0 417.4 L92.7 417.4 L93.5 417.4 L94.3 417.5 L95.0 417.2 L95.8 417.2 L96.6 417.2 L97.4 416.9 L98.1 417.0 L98.9 417.1 L99.7 417.5 L100.4 417.4 L101.2 417.2 L102.0 417.0 L102.7 417.4 L103.5 417.7 L104.3 417.6 L105.1 417.2 L105.8 417.1 L106.6 417.3 L107.4 417.3 L108.1 417.7 L108.9 417.7 L109.7 418.0 L110.4 418.0 L111.2 418.2 L112.0 418.1 L112.8 418.0 L113.5 417.9 L114.3 417.9 L115.1 417.6 L115.8 417.6 L116.6 417.7 L117.4 418.0 L118.1 417.8 L118.9 417.6 L119.7 417.5 L120.5 417.5 L121.2 417.7 L122.0 418.0 L122.8 418.1 L123.5 418.0 L124.3 417.8 L125.1 417.7 L125.8 417.6 L126.6 417.4 L127.4 417.4 L128.2 417.7 L128.9 417.9 L129.7 417.8 L130.5 417.4 L131.2 417.1 L132.0 417.1 L132.8 417.2 L133.5 417.0 L134.3 417.0 L135.1 416.8 L135.9 417.2 L136.6 417.1 L137.4 417.5 L138.2 417.1 L138.9 417.0 L139.7 416.6 L140.5 416.8 L141.2 416.9 L142.0 416.5 L142.8 416.3 L143.6 416.1 L144.3 416.1 L145.1 415.9 L145.9 416.1 L146.6 416.1 L147.4 415.9 L148.2 415.6 L148.9 415.6 L149.7 415.7 L150.5 415.6 L151.3 415.6 L152.0 415.6 L152.8 415.5 L153.6 415.3 L154.3 415.0 L155.1 414.6 L155.9 414.3 L156.6 414.3 L157.4 414.1 L158.2 413.6 L159.0 413.5 L159.7 413.3 L160.5 413.1 L161.3 413.0 L162.0 413.0 L162.8 413.4 L163.6 413.0 L164.3 412.7 L165.1 412.1 L165.9 412.0 L166.7 412.0 L167.4 411.9 L168.2 411.8 L169.0 411.3 L169.7 411.3 L170.5 410.8 L171.3 410.9 L172.0 410.9 L172.8 411.4 L173.6 411.7 L174.4 411.1 L175.1 410.9 L175.9 410.7 L176.7 411.2 L177.4 410.7 L178.2 410.4 L179.0 410.5 L179.7 410.3 L180.5 410.2 L181.3 409.9 L182.1 410.0 L182.8 409.9 L183.6 409.2 L184.4 409.1 L185.1 408.6 L185.9 408.8 L186.7 408.8 L187.4 409.1 L188.2 408.7 L189.0 408.6 L189.8 408.4 L190.5 408.7 L191.3 407.9 L192.1 407.2 L192.8 406.3 L193.6 406.0 L194.4 405.3 L195.1 405.0 L195.9 404.2 L196.7 402.9 L197.5 401.5 L198.2 400.9 L199.0 400.7 L199.8 400.9 L200.5 400.5 L201.3 400.0 L202.1 399.7 L202.8 399.1 L203.6 398.5 L204.4 398.7 L205.2 398.3 L205.9 398.8 L206.7 398.4 L207.5 398.8 L208.2 398.1 L209.0 398.0 L209.8 397.5 L210.5 397.5 L211.3 397.1 L212.1 397.5 L212.9 397.7 L213.6 397.9 L214.4 397.5 L215.2 397.3 L215.9 396.7 L216.7 396.6 L217.5 396.8 L218.2 397.0 L219.0 397.2 L219.8 396.9 L220.6 396.8 L221.3 396.7 L222.1 396.8 L222.9 397.1 L223.6 397.1 L224.4 397.6 L225.2 397.4 L225.9 397.3 L226.7 396.7 L227.5 396.8 L228.3 397.4 L229.0 397.8 L229.8 398.2 L230.6 398.6 L231.3 399.1 L232.1 399.4 L232.9 399.8 L233.6 400.3 L234.4 400.9 L235.2 401.3 L236.0 402.0 L236.7 402.2 L237.5 402.2 L238.3 402.4 L239.0 402.9 L239.8 403.0 L240.6 403.5 L241.3 403.9 L242.1 404.7 L242.9 404.5 L243.7 405.0 L244.4 405.0 L245.2 405.5 L246.0 405.2 L246.7 404.9 L247.5 404.4 L248.3 404.2 L249.0 403.9 L249.8 403.5 L250.6 403.3 L251.4 402.6 L252.1 401.9 L252.9 401.2 L253.7 401.0 L254.4 401.1 L255.2 400.8 L256.0 399.7 L256.7 399.0 L257.5 398.7 L258.3 398.7 L259.1 398.0 L259.8 397.2 L260.6 396.6 L261.4 396.8 L262.1 396.8 L262.9 397.2 L263.7 397.2 L264.4 397.1 L265.2 396.9 L266.0 397.2 L266.8 397.5 L267.5 397.4 L268.3 396.9 L269.1 397.4 L269.8 397.5 L270.6 397.1 L271.4 396.1 L272.1 395.8 L272.9 396.1 L273.7 396.1 L274.5 396.3 L275.2 395.9 L276.0 395.8 L276.8 396.0 L277.5 396.4 L278.3 396.5 L279.1 395.6 L279.8 394.4 L280.6 393.3 L281.4 392.4 L282.2 392.1 L282.9 391.1 L283.7 390.2 L284.5 388.5 L285.2 387.6 L286.0 386.1 L286.8 384.8 L287.5 383.7 L288.3 382.9 L289.1 382.3 L289.9 382.6 L290.6 383.1 L291.4 383.2 L292.2 383.3 L292.9 383.2 L293.7 381.8 L294.5 380.9 L295.2 379.6 L296.0 378.2 L296.8 376.1 L297.6 374.9 L298.3 373.1 L299.1 371.3 L299.9 368.9 L300.6 367.3 L301.4 365.8 L302.2 364.6 L302.9 363.4 L303.7 362.6 L304.5 361.9 L305.3 361.1 L306.0 360.9 L306.8 360.8 L307.6 360.7 L308.3 360.1 L309.1 361.3 L309.9 362.5 L310.6 363.6 L311.4 364.9 L312.2 366.0 L313.0 365.5 L313.7 363.3 L314.5 361.8 L315.3 359.5 L316.0 358.1 L316.8 355.7 L317.6 354.5 L318.3 354.4 L319.1 354.8 L319.9 355.4 L320.7 356.2 L321.4 357.2 L322.2 358.3 L323.0 358.7 L323.7 360.5 L324.5 363.0 L325.3 365.6 L326.0 367.0 L326.8 370.3 L327.6 374.6 L328.4 378.7 L329.1 382.4 L329.9 382.8 L330.7 383.7 L331.4 384.4 L332.2 385.2 L333.0 385.7 L333.7 387.0 L334.5 388.0 L335.3 389.3 L336.1 390.6 L336.8 391.0 L337.6 389.5 L338.4 388.3 L339.1 388.8 L339.9 389.1 L340.7 390.1 L341.4 390.9 L342.2 391.7 L343.0 391.9 L343.8 391.7 L344.5 392.5 L345.3 393.3 L346.1 394.3 L346.8 394.7 L347.6 395.0 L348.4 394.2 L349.1 393.3 L349.9 392.0 L350.7 391.2 L351.5 390.8 L352.2 391.0 L353.0 392.0 L353.8 392.5 L354.5 393.2 L355.3 393.8 L356.1 394.2 L356.8 394.6 L357.6 394.9 L358.4 396.2 L359.2 397.2 L359.9 398.6 L360.7 399.6 L361.5 400.8 L362.2 401.5 L363.0 402.3 L363.8 402.6 L364.5 402.9 L365.3 402.7 L366.1 402.6 L366.9 402.8 L367.6 402.5 L368.4 403.0 L369.2 402.6 L369.9 402.9 L370.7 403.0 L371.5 402.9 L372.2 402.2 L373.0 401.9 L373.8 402.3 L374.6 402.8 L375.3 402.9 L376.1 403.1 L376.9 402.8 L377.6 403.1 L378.4 402.9 L379.2 403.8 L379.9 404.1 L380.7 404.4 L381.5 404.5 L382.3 404.6 L383.0 404.9 L383.8 405.0 L384.6 405.3 L385.3 405.3 L386.1 405.8 L386.9 405.9 L387.6 406.3 L388.4 406.3 L389.2 406.3 L390.0 406.4 L390.7 406.5 L391.5 406.9 L392.3 407.2 L393.0 407.8 L393.8 408.5 L394.6 409.8 L395.3 410.4 L396.1 411.0 L396.9 411.1 L397.7 410.8 L398.4 409.7 L399.2 409.1 L400.0 407.2 L400.7 406.0 L401.5 404.9 L402.3 405.5 L403.0 405.4 L403.8 405.5 L404.6 405.6 L405.4 406.2 L406.1 405.6 L406.9 405.4 L407.7 405.0 L408.4 405.6 L409.2 405.5 L410.0 405.0 L410.7 404.6 L411.5 404.0 L412.3 403.2 L413.1 402.1 L413.8 400.4 L414.6 398.2 L415.4 394.9 L416.1 392.1 L416.9 388.2 L417.7 383.6 L418.4 378.9 L419.2 374.1 L420.0 369.3 L420.8 364.4 L421.5 359.2 L422.3 353.9 L423.1 346.8 L423.8 339.8 L424.6 332.4 L425.4 323.8 L426.1 314.7 L426.9 305.1 L427.7 295.5 L428.5 286.0 L429.2 277.5 L430.0 270.4 L430.8 267.5 L431.5 264.3 L432.3 261.5 L433.1 256.9 L433.8 251.8 L434.6 245.6 L435.4 236.1 L436.2 227.9 L436.9 221.5 L437.7 213.7 L438.5 204.3 L439.2 195.6 L440.0 186.5 L440.8 180.0 L441.5 177.7 L442.3 183.0 L443.1 192.8 L443.9 203.7 L444.6 216.2 L445.4 232.9 L446.2 248.3 L446.9 261.6 L447.7 271.0 L448.5 279.6 L449.2 288.5 L450.0 297.6 L450.8 306.0 L451.6 314.5 L452.3 322.2 L453.1 330.3 L453.9 340.4 L454.6 350.5 L455.4 358.2 L456.2 362.2 L456.9 366.5 L457.7 370.4 L458.5 374.7 L459.3 378.3 L460.0 381.2 L460.8 384.0 L461.6 386.6 L462.3 388.8 L463.1 390.8 L463.9 392.6 L464.6 394.2 L465.4 395.8 L466.2 397.3 L467.0 399.5 L467.7 400.6 L468.5 401.8 L469.3 402.6 L470.0 403.6 L470.8 404.4 L471.6 405.3 L472.3 405.7 L473.1 405.9 L473.9 406.4 L474.7 407.3 L475.4 408.3 L476.2 408.8 L477.0 409.3 L477.7 409.9 L478.5 410.0 L479.3 410.6 L480.0 410.6 L480.8 411.0 L481.6 411.5 L482.4 412.2 L483.1 412.4 L483.9 412.4 L484.7 412.7 L485.4 413.7 L486.2 414.1 L487.0 414.3 L487.7 414.1 L488.5 415.1 L489.3 415.6 L490.1 416.4 L490.8 416.1 L491.6 416.4 L492.4 416.5 L493.1 416.4 L493.9 416.5 L494.7 416.5 L495.4 417.0 L496.2 416.7 L497.0 416.7 L497.8 416.7 L498.5 417.1 L499.3 417.3 L500.1 417.1 L500.8 416.9 L501.6 416.8 L502.4 417.3 L503.1 417.5 L503.9 417.8 L504.7 417.6 L505.5 417.4 L506.2 417.4 L507.0 417.4" fill="none" stroke="#fff" stroke-width="1.95" stroke-linejoin="round" stroke-linecap="round"/>
<!-- annotations -->
<g font-size="8" font-style="italic" text-anchor="end" stroke-width="0.25">
<text x="178.8" y="367.2" fill="#e6e52e" stroke="#e6e52e" textLength="37" lengthAdjust="spacingAndGlyphs">Rata-rata</text>
<text x="178.8" y="375.4" fill="#e6e52e" stroke="#e6e52e" textLength="24" lengthAdjust="spacingAndGlyphs">harian</text>
<text x="182.5" y="454.2" fill="#fff" stroke="#fff" textLength="37" lengthAdjust="spacingAndGlyphs">Rata-rata</text>
<text x="182.5" y="463.6" fill="#fff" stroke="#fff" textLength="58" lengthAdjust="spacingAndGlyphs">bergerak 7 hari</text>
</g>
<path d="M200.8 388 Q199.5 372.5 186 370.6" fill="none" stroke="#e6e52e" stroke-width="0.9"/>
<path d="M184 370.4 L187.6 368.6 L187.4 372.6 Z" fill="#e6e52e"/>
<path d="M199.7 427.6 Q201.5 441.5 190.8 446.8" fill="none" stroke="#fff" stroke-width="0.9"/>
<path d="M188.8 447.8 L191 444.4 L192.6 448 Z" fill="#fff"/>
<path d="M506.5 417.4 L512.6 419 L506.5 420.7 Z" fill="#19a44a"/>
<!-- boxes -->
<path d="M514 379 H575.3 V409 H526.7 L514 415 Z" fill="#19a44a"/>
<path d="M520.8 420 H581.2 V449.8 H520.8 V428.3 L513.7 422.4 L520.8 422 Z" fill="#f26522"/>
<g font-weight="bold" fill="#fff" stroke="#fff" stroke-width="0.4" text-anchor="middle">
<text x="545" y="388.4" font-size="7.7" textLength="54" lengthAdjust="spacingAndGlyphs">KASUS BARU</text>
<text x="545.3" y="403.7" font-size="14.4" textLength="16.5" lengthAdjust="spacingAndGlyphs">41</text>
<text x="550.5" y="429.3" font-size="7.7" textLength="46" lengthAdjust="spacingAndGlyphs">KEMATIAN</text>
<text x="551" y="444.4" font-size="14" textLength="8.6" lengthAdjust="spacingAndGlyphs">2</text>
</g>
<!-- axis -->
<line x1="18" x2="585" y1="541.8" y2="541.8" stroke="#fff" stroke-width="1.4"/>
<line x1="54.5" x2="54.5" y1="541" y2="545.8" stroke="#fff" stroke-width="1.5"/>
<line x1="508" x2="508" y1="541" y2="545.8" stroke="#fff" stroke-width="1.5"/>
<g font-size="8.6" font-weight="bold" fill="#fff">
<text x="29" y="558.3" textLength="45" lengthAdjust="spacingAndGlyphs">2 MAR '20</text>
<text x="488.5" y="558.3" textLength="42" lengthAdjust="spacingAndGlyphs">11 OKT '21</text>
</g>
<text x="18" y="584.9" font-size="10.4" fill="#d4dcee" textLength="499" lengthAdjust="spacingAndGlyphs">Catatan: Data kasus baru dan kematian diupdate berdasarkan tanggal pelaporan, bukan tanggal kejadian</text>
</svg>
</body></html>
